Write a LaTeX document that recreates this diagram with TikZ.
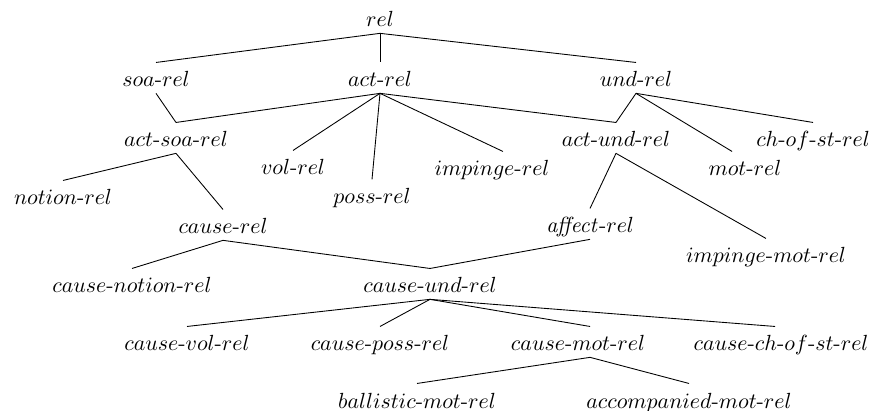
\documentclass[tikz,border=0pt]{standalone}
\begin{document}
\begin{tikzpicture}[x=0.4566pt, y=-0.4566pt,
  typ/.style={inner sep=0pt, anchor=base, text height=11pt, text depth=2.7pt}]
% Fix the page size
\useasboundingbox (0,0) rectangle (874,411);

% Top levels of the hierarchy
\node[typ] (rel) at (380, 27) {$rel$};
\node[typ] (soa) at (156, 87) {$soa$-$rel$};
\node[typ] (act) at (380, 87) {$act$-$rel$};
\node[typ] (und) at (636, 87) {$und$-$rel$};
\node[typ] (actsoa) at (176, 147) {$act$-$soa$-$rel$};
\node[typ] (actund) at (616, 147) {$act$-$und$-$rel$};
\node[typ] (chofst) at (813, 147) {$ch$-$of$-$st$-$rel$};
\node[typ] (vol) at (293, 175) {$vol$-$rel$};
\node[typ] (imp) at (492, 176) {$impinge$-$rel$};
\node[typ] (mot) at (745, 176) {$mot$-$rel$};
\node[typ] (poss) at (372, 204) {$poss$-$rel$};
\node[typ] (notion) at (63, 205) {$notion$-$rel$};

% Middle levels
\node[typ] (cause) at (223, 234) {$cause$-$rel$};
\node[typ] (affect) at (590, 233) {$\mathit{affect}$-$rel$};
\node[typ] (impmot) at (766, 263) {$impinge$-$mot$-$rel$};
\node[typ] (causenotion) at (132, 293) {$cause$-$notion$-$rel$};
\node[typ] (causeund) at (430, 293) {$cause$-$und$-$rel$};

% Bottom levels
\node[typ] (causevol) at (187, 351) {$cause$-$vol$-$rel$};
\node[typ] (causeposs) at (380, 351) {$cause$-$poss$-$rel$};
\node[typ] (causemot) at (578, 351) {$cause$-$mot$-$rel$};
\node[typ] (causechofst) at (781, 351) {$cause$-$ch$-$of$-$st$-$rel$};
\node[typ] (ballistic) at (417, 408) {$ballistic$-$mot$-$rel$};
\node[typ] (accomp) at (689, 408) {$accompanied$-$mot$-$rel$};

% Draw the links
\draw (rel.south) -- (soa.north);
\draw (rel.south) -- (act.north);
\draw (rel.south) -- (und.north);
\draw (soa.south) -- (actsoa.north);
\draw (act.south) -- (actsoa.north);
\draw (act.south) -- (vol.north);
\draw (act.south) -- (poss.north);
\draw (act.south) -- ([xshift=5pt]imp.north);
\draw (act.south) -- (actund.north);
\draw (und.south) -- (actund.north);
\draw (und.south) -- ([xshift=-5.9pt]mot.north);
\draw (und.south) -- (chofst.north);
\draw (actsoa.south) -- (notion.north);
\draw (actsoa.south) -- (cause.north);
\draw (actund.south) -- (affect.north);
\draw (actund.south) -- (impmot.north);
\draw (cause.south) -- (causenotion.north);
\draw (cause.south) -- (causeund.north);
\draw (affect.south) -- (causeund.north);
\draw (causeund.south) -- (causevol.north);
\draw (causeund.south) -- (causeposs.north);
\draw (causeund.south) -- ([xshift=5.5pt]causemot.north);
\draw (causeund.south) -- ([xshift=-2.7pt]causechofst.north);
\draw ([xshift=5.5pt]causemot.south) -- (ballistic.north);
\draw ([xshift=5.5pt]causemot.south) -- (accomp.north);
\end{tikzpicture}
\end{document}
